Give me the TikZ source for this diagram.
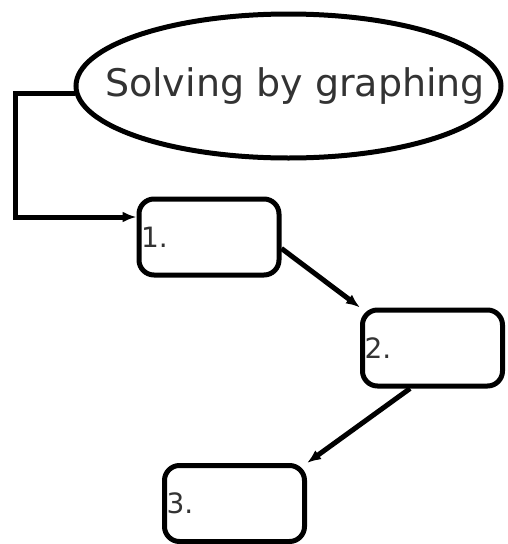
\documentclass[tikz,border=0pt]{standalone}
\usepackage{fontspec}
\setmainfont{DejaVu Sans}
\usetikzlibrary{shapes.geometric, positioning, arrows.meta}
\definecolor{textgray}{HTML}{333333}
\tikzset{
>={Latex[length=14pt,width=11pt]}, % small solid arrow heads
topic/.style={ellipse, draw, inner xsep=-60pt, inner ysep=0pt, minimum width=425pt, minimum height=144pt, text=textgray, font=\fontsize{38}{44}\selectfont},
stepbox/.style={rectangle, draw, rounded corners=15pt, text width=136pt, inner xsep=2pt, minimum height=76pt, align=left, text=textgray, font=\fontsize{28}{32}\selectfont},
}

\begin{document}
\begin{tikzpicture}[x=1pt, y=-1pt, line width=5pt]
\useasboundingbox (0,0) rectangle (508,544);

\node[topic] (topic) at (288.5, 86) {\kern13pt Solving by graphing};
\node[stepbox] (s1) at (209, 237) {1.};
\node[stepbox] (s2) at (432.5, 348) {2.};
\node[stepbox] (s3) at (234.5, 503.5) {3.};
\coordinate (corner) at (15, 217);

% edges
\draw[->, line join=miter] (topic.182) -| (corner) -- (s1.west |- corner); % topic to 1
\draw[->] (s1.-9) -- (s2.north west); % 1 to 2
\draw[->] (s2.241) -- (s3.north east); % 2 to 3
\end{tikzpicture}
\end{document}
